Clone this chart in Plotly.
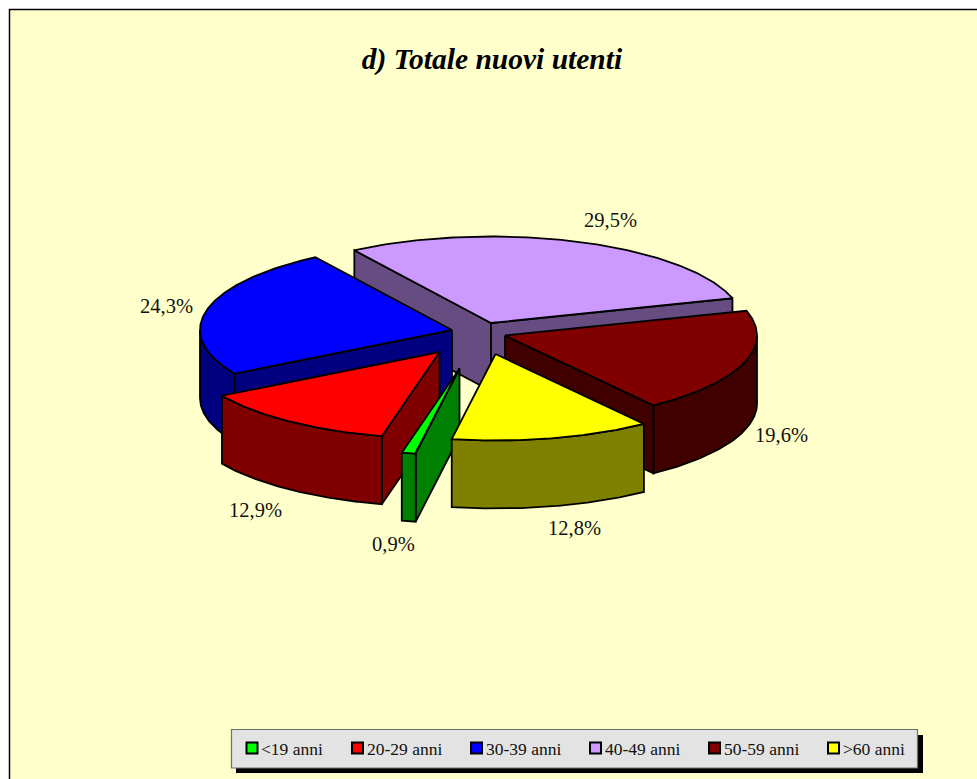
import numpy as np
import plotly.graph_objects as go

# ---- data ----
categories = ["<19 anni", "20-29 anni", "30-39 anni", "40-49 anni", "50-59 anni", ">60 anni"]
values = [0.9, 12.9, 24.3, 29.5, 19.6, 12.8]
title_text = "d) Totale nuovi utenti"

# ---- style ----
top_colors = ["#00FF00", "#FF0000", "#0000FF", "#CC99FF", "#800000", "#FFFF00"]
side_colors = ["#008000", "#800000", "#000080", "#664C80", "#400000", "#808000"]
explode_dx = [-20.5, -40.5, -28, 11, 25, 15.5]
explode_dy = [30.5, 14, -8, -15, -2.5, 16]
label_x = [393, 255, 166, 610, 781, 574]
label_y = [544, 510, 306, 220, 435, 528]
legend_x = [245.5, 351, 470, 589, 708, 827]
draw_order = [3, 2, 4, 1, 0, 5]
CX, CY, RX, RY, DEPTH = 480, 338, 252, 86.5, 68
FIRST_ANGLE = 190
W, H = 977, 779
LW = 1.8

fig = go.Figure()


def rim_point(ax, ay, deg):
    r = np.radians(deg)
    return ax + RX * np.sin(r), ay - RY * np.cos(r)


def add_poly(xs, ys, color):
    fig.add_trace(go.Scatter(
        x=list(xs) + [xs[0]], y=list(ys) + [ys[0]], mode="lines", fill="toself",
        fillcolor=color, line=dict(color="black", width=LW),
        hoverinfo="skip", showlegend=False))


bounds = FIRST_ANGLE + np.concatenate([[0], np.cumsum(values)]) * 3.6

for i in draw_order:
    a0, a1 = bounds[i], bounds[i + 1]
    mid = (a0 + a1) / 2
    ax, ay = CX + explode_dx[i], CY + explode_dy[i]
    # radial walls that face the viewer
    for edge in (a0, a1):
        ex, ey = rim_point(ax, ay, edge)
        dx, dy = ex - ax, ey - ay
        mx, my = rim_point(ax, ay, mid)
        ix, iy = mx - ax, my - ay
        nx, ny = -dy, dx
        if nx * ix + ny * iy > 0:
            nx, ny = -nx, -ny
        if ny > 0:
            add_poly([ax, ex, ex, ax], [ay, ey, ey + DEPTH, ay + DEPTH], side_colors[i])
    # outer rim, front half of the ellipse only
    angs = np.linspace(a0, a1, 120)
    front = angs[np.cos(np.radians(angs)) < 0]
    if front.size > 1:
        rx, ry = rim_point(ax, ay, front)
        add_poly(np.r_[rx, rx[::-1]], np.r_[ry, ry[::-1] + DEPTH], side_colors[i])
    # top face
    tx, ty = rim_point(ax, ay, angs)
    add_poly(np.r_[ax, tx], np.r_[ay, ty], top_colors[i])

# legend swatches
fig.add_trace(go.Scatter(
    x=[x + 6.5 for x in legend_x], y=[748] * len(categories), mode="markers",
    marker=dict(symbol="square", size=11, color=top_colors, line=dict(color="black", width=2)),
    hoverinfo="skip", showlegend=False))

annotations = []
for v, x, y in zip(values, label_x, label_y):
    annotations.append(dict(
        x=x, y=y, xref="x", yref="y", showarrow=False,
        text=f"{v:.1f}".replace(".", ",") + "%",
        font=dict(family="Liberation Serif", size=20.5, color="#111111")))
for c, x in zip(categories, legend_x):
    annotations.append(dict(
        x=x + 13.5, y=748.5, xref="x", yref="y", xanchor="left", showarrow=False,
        text=c.replace("<", "&lt;"),
        font=dict(family="Liberation Serif", size=17.5, color="#111111")))

shapes = [
    dict(type="rect", xref="x", yref="y", x0=9.5, y0=9.5, x1=1000, y1=800,
         fillcolor="#FFFFCC", line=dict(color="black", width=1.5), layer="below"),
    dict(type="rect", xref="x", yref="y", x0=236, y0=735, x1=923, y1=773,
         fillcolor="black", line=dict(width=0), layer="below"),
    dict(type="rect", xref="x", yref="y", x0=231.5, y0=729.5, x1=917.5, y1=768,
         fillcolor="#E3E3E3", line=dict(color="#707070", width=1.2), layer="below"),
]

fig.update_layout(
    width=W, height=H, autosize=False,
    margin=dict(l=0, r=0, t=0, b=0, pad=0),
    paper_bgcolor="white", plot_bgcolor="white",
    xaxis=dict(range=[0, W], visible=False, fixedrange=True),
    yaxis=dict(range=[H, 0], visible=False, fixedrange=True),
    title=dict(text=f"<b><i>{title_text}</i></b>", x=492 / W, y=1 - 59 / H,
               xanchor="center", yanchor="middle",
               font=dict(family="Liberation Serif", size=29.5, color="black")),
    shapes=shapes, annotations=annotations, showlegend=False,
)

fig.write_html("out.html", config=dict(displayModeBar=False),
               post_script="document.body.style.margin='0';document.body.style.overflow='hidden';")
